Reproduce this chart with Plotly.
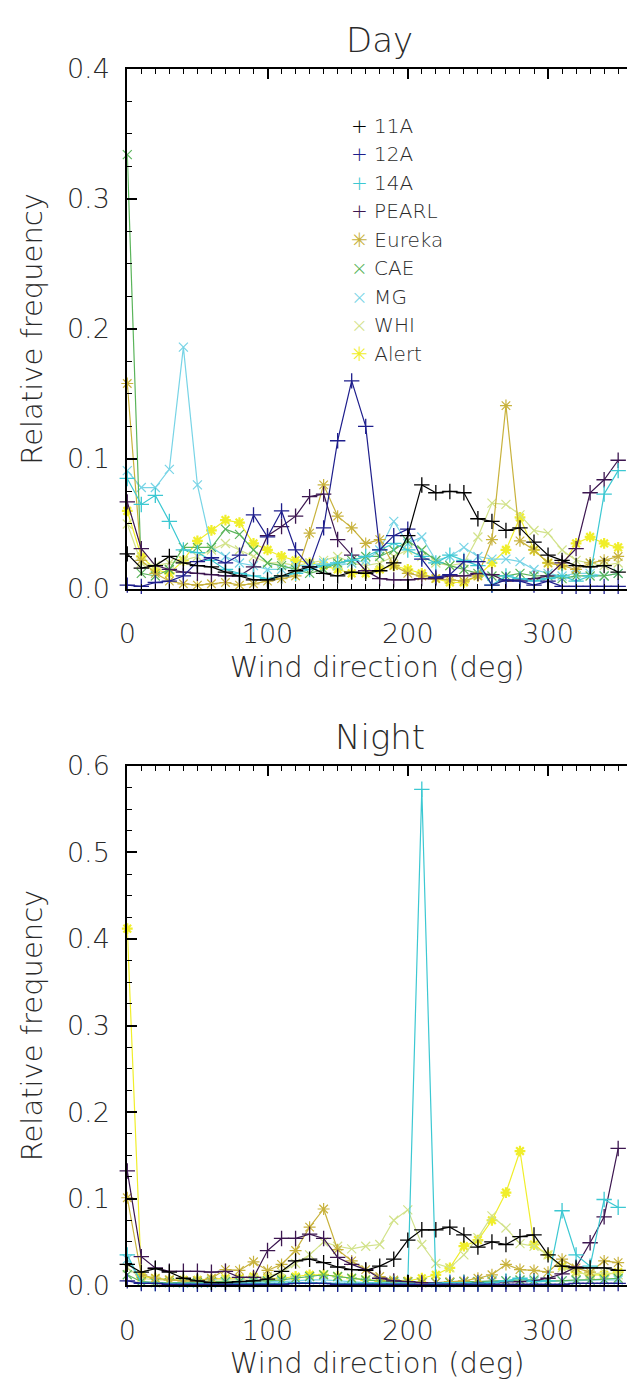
import plotly.graph_objects as go

W, H = 627, 1395

directions = list(range(0, 360, 10))
stations = ["11A", "12A", "14A", "PEARL", "Eureka", "CAE", "MG", "WHI", "Alert"]

day_11A = [0.027,0.016,0.018,0.025,0.020,0.018,0.017,0.013,0.010,0.007,0.007,0.010,0.014,0.017,0.012,0.010,0.013,0.012,0.014,0.020,0.041,0.080,0.074,0.075,0.074,0.054,0.052,0.045,0.047,0.036,0.026,0.022,0.018,0.017,0.018,0.013]
day_12A = [0.003,0.002,0.005,0.006,0.010,0.021,0.024,0.020,0.026,0.057,0.040,0.060,0.030,0.017,0.047,0.114,0.160,0.125,0.030,0.041,0.046,0.023,0.009,0.011,0.021,0.021,0.003,0.007,0.006,0.003,0.006,0.002,0.002,0.002,0.002,0.002]
day_14A = [0.085,0.065,0.072,0.052,0.030,0.028,0.022,0.015,0.012,0.010,0.008,0.010,0.012,0.015,0.018,0.020,0.022,0.025,0.030,0.035,0.030,0.025,0.020,0.026,0.022,0.018,0.003,0.010,0.008,0.006,0.008,0.010,0.006,0.010,0.073,0.091]
day_PEARL = [0.067,0.031,0.018,0.015,0.013,0.012,0.011,0.010,0.010,0.017,0.041,0.048,0.056,0.071,0.073,0.038,0.026,0.014,0.008,0.007,0.007,0.008,0.008,0.010,0.010,0.012,0.011,0.006,0.007,0.008,0.010,0.020,0.031,0.074,0.084,0.099]
day_Eureka = [0.158,0.022,0.012,0.006,0.004,0.003,0.004,0.005,0.003,0.004,0.006,0.008,0.010,0.043,0.080,0.056,0.047,0.035,0.038,0.018,0.012,0.010,0.008,0.007,0.006,0.010,0.038,0.141,0.037,0.030,0.020,0.018,0.015,0.020,0.022,0.025]
day_CAE = [0.334,0.012,0.010,0.015,0.032,0.032,0.032,0.046,0.042,0.030,0.020,0.018,0.015,0.012,0.015,0.020,0.022,0.025,0.025,0.030,0.037,0.030,0.022,0.018,0.015,0.012,0.010,0.010,0.012,0.010,0.010,0.008,0.010,0.010,0.010,0.012]
day_MG = [0.091,0.078,0.078,0.092,0.186,0.080,0.032,0.025,0.020,0.018,0.015,0.015,0.018,0.018,0.020,0.018,0.020,0.022,0.030,0.052,0.035,0.040,0.022,0.025,0.032,0.025,0.023,0.023,0.021,0.015,0.012,0.010,0.012,0.012,0.010,0.012]
day_WHI = [0.050,0.020,0.018,0.020,0.022,0.025,0.030,0.035,0.030,0.025,0.020,0.020,0.018,0.020,0.022,0.025,0.020,0.018,0.020,0.025,0.030,0.025,0.020,0.018,0.020,0.040,0.066,0.065,0.057,0.045,0.043,0.030,0.022,0.020,0.018,0.020]
day_Alert = [0.060,0.025,0.015,0.012,0.022,0.037,0.045,0.053,0.051,0.035,0.030,0.025,0.022,0.020,0.018,0.015,0.012,0.012,0.015,0.018,0.015,0.012,0.008,0.005,0.005,0.010,0.020,0.030,0.055,0.030,0.020,0.018,0.035,0.040,0.035,0.032]

night_11A = [0.024,0.015,0.019,0.015,0.008,0.005,0.003,0.003,0.004,0.005,0.007,0.016,0.028,0.030,0.026,0.021,0.018,0.017,0.022,0.030,0.052,0.064,0.064,0.067,0.058,0.044,0.050,0.047,0.056,0.058,0.035,0.022,0.020,0.020,0.020,0.017]
night_12A = [0.005,0.002,0.002,0.001,0.001,0.001,0.001,0.001,0.001,0.001,0.001,0.001,0.002,0.002,0.002,0.001,0.001,0.001,0.001,0.001,0.001,0.001,0.001,0.001,0.001,0.001,0.001,0.001,0.001,0.001,0.001,0.001,0.002,0.002,0.002,0.002]
night_14A = [0.035,0.003,0.002,0.002,0.002,0.002,0.002,0.002,0.002,0.002,0.002,0.002,0.003,0.003,0.002,0.002,0.002,0.002,0.002,0.002,0.002,0.573,0.002,0.003,0.003,0.002,0.003,0.005,0.008,0.004,0.005,0.086,0.035,0.022,0.099,0.090]
night_PEARL = [0.132,0.033,0.020,0.016,0.016,0.016,0.015,0.016,0.009,0.009,0.040,0.054,0.054,0.059,0.054,0.032,0.024,0.018,0.008,0.005,0.004,0.003,0.003,0.003,0.003,0.003,0.003,0.004,0.004,0.005,0.008,0.013,0.021,0.049,0.079,0.158]
night_Eureka = [0.101,0.012,0.008,0.006,0.005,0.005,0.008,0.018,0.017,0.027,0.017,0.024,0.040,0.067,0.088,0.041,0.028,0.018,0.010,0.006,0.004,0.003,0.003,0.004,0.005,0.008,0.012,0.024,0.018,0.017,0.015,0.030,0.020,0.015,0.028,0.026]
night_CAE = [0.012,0.004,0.003,0.003,0.003,0.003,0.004,0.004,0.004,0.005,0.005,0.006,0.008,0.010,0.012,0.010,0.008,0.006,0.005,0.004,0.004,0.003,0.003,0.003,0.004,0.004,0.005,0.005,0.006,0.006,0.005,0.005,0.006,0.006,0.007,0.008]
night_MG = [0.030,0.004,0.003,0.003,0.002,0.002,0.002,0.003,0.003,0.003,0.004,0.004,0.005,0.006,0.006,0.005,0.004,0.003,0.003,0.003,0.003,0.003,0.003,0.003,0.004,0.004,0.004,0.005,0.005,0.004,0.004,0.005,0.005,0.006,0.006,0.006]
night_WHI = [0.020,0.008,0.006,0.006,0.005,0.005,0.006,0.006,0.006,0.008,0.010,0.015,0.025,0.035,0.050,0.045,0.042,0.045,0.047,0.075,0.087,0.047,0.025,0.020,0.035,0.055,0.080,0.066,0.048,0.045,0.035,0.020,0.015,0.012,0.015,0.012]
night_Alert = [0.412,0.010,0.008,0.006,0.006,0.006,0.007,0.008,0.008,0.010,0.008,0.008,0.010,0.012,0.012,0.010,0.008,0.006,0.005,0.005,0.005,0.008,0.012,0.020,0.045,0.052,0.075,0.107,0.155,0.047,0.035,0.022,0.015,0.012,0.012,0.015]

day = [day_11A, day_12A, day_14A, day_PEARL, day_Eureka, day_CAE, day_MG, day_WHI, day_Alert]
night = [night_11A, night_12A, night_14A, night_PEARL, night_Eureka, night_CAE, night_MG, night_WHI, night_Alert]

colors = ["#000000", "#1e1e8c", "#3cc8d2", "#3c1650", "#c8b23c", "#5ab45a", "#78d4e6", "#d2e28a", "#f0ee2a"]
symbols = ["cross-thin", "cross-thin", "cross-thin", "cross-thin", "asterisk", "x-thin", "x-thin", "x-thin", "asterisk"]
msizes = [11, 11, 11, 11, 10, 9, 9, 9, 9]
mwidths = [1.3, 1.3, 1.3, 1.3, 1.2, 1.2, 1.2, 1.2, 2.2]
glyphs = ["+", "+", "+", "+", "✳", "×", "×", "×", "✳"]

FONT = "DejaVu Sans"
TXT = "#2a2a2a"
WT = 200

def f(size):
    return dict(family=FONT, size=size, color=TXT, weight=WT)

fig = go.Figure()
for vals_list, xa, ya in [(day, "x", "y"), (night, "x2", "y2")]:
    for i in reversed(range(len(stations))):
        fig.add_trace(go.Scatter(
            x=directions, y=vals_list[i], xaxis=xa, yaxis=ya,
            mode="lines+markers", name=stations[i], showlegend=False,
            cliponaxis=False,
            line=dict(color=colors[i], width=1.2),
            marker=dict(symbol=symbols[i], size=msizes[i], color=colors[i],
                        line=dict(color=colors[i], width=mwidths[i])),
        ))

x0 = 120 / W
def ydom(top, bottom):
    return [1 - bottom / H, 1 - top / H]

def xax(anchor):
    return dict(
        domain=[x0, 1], anchor=anchor, range=[0, 356.3],
        tickvals=[0, 100, 200, 300], ticks="inside", ticklen=10, tickwidth=1.5,
        tickcolor="black", showline=True, linecolor="black", linewidth=2,
        mirror="allticks", showgrid=False, zeroline=False,
        minor=dict(dtick=10, ticklen=5, tickwidth=1, tickcolor="black", ticks="inside", showgrid=False),
        tickfont=f(27), ticklabelstandoff=20,
        title=dict(text="Wind direction (deg)", font=f(29), standoff=8),
    )

def yax(anchor, dom, rmax):
    return dict(
        domain=dom, anchor=anchor, range=[0, rmax], dtick=0.1, tick0=0, tickformat=".1f",
        ticks="inside", ticklen=10, tickwidth=1.5, tickcolor="black",
        showline=True, linecolor="black", linewidth=2, mirror=False,
        showgrid=False, zeroline=False,
        minor=dict(dtick=0.025, ticklen=5, tickwidth=1, tickcolor="black", ticks="inside", showgrid=False),
        tickfont=f(27), ticklabelstandoff=10,
        title=dict(text="Relative frequency", font=f(29), standoff=16),
    )

fig.update_layout(
    width=W, height=H, margin=dict(l=0, r=0, t=0, b=0),
    paper_bgcolor="white", plot_bgcolor="white",
    xaxis=xax("y"), yaxis=yax("x", ydom(54, 586), 0.4),
    xaxis2=xax("y2"), yaxis2=yax("x2", ydom(767, 1298), 0.6),
    showlegend=False,
)

# panel titles
for txt, yc in [("Day", 25), ("Night", 737)]:
    fig.add_annotation(text=txt, xref="paper", yref="paper", x=376 / W, y=1 - yc / H,
                       xanchor="center", yanchor="middle", showarrow=False,
                       font=f(34))

# legend (Day panel)
for i, s in enumerate(stations):
    yc = 112 + 29.2 * i
    fig.add_annotation(
        text=f"<span style='color:{colors[i]}'>{glyphs[i]}</span> {s}",
        xref="paper", yref="paper", x=345 / W, y=1 - yc / H,
        xanchor="left", yanchor="middle", showarrow=False,
        font=f(20))

fig.write_html("out.html")
